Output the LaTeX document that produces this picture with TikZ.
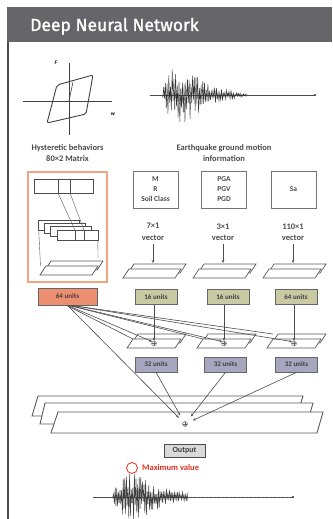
\documentclass[tikz,border=0pt]{standalone}
\usepackage{fontspec}
\setmainfont{Carlito}
\newfontfamily\titlefont[FakeBold=1.2]{Fira Sans}
\usetikzlibrary{arrows.meta}
\definecolor{titlegray}{HTML}{66666A}
\definecolor{orangeB}{HTML}{F2A47E}
\definecolor{orangeF}{HTML}{EC8F70}
\definecolor{oliveF}{HTML}{C9C9A3}
\definecolor{lavF}{HTML}{A6A6BE}
\definecolor{redM}{HTML}{E03020}
\tikzset{
  lbl/.style={font=\fontsize{8.5}{11.5}\selectfont\bfseries, text=black!70, align=center, inner sep=0},
  inbox/.style={draw=black!55, line width=0.8pt, minimum width=45pt, minimum height=37pt,
    font=\fontsize{7.5}{10}\selectfont\bfseries, align=center, text=black!70, inner sep=0},
  unitbox/.style={draw=black!60, line width=0.7pt, minimum width=42pt, minimum height=15pt,
    font=\fontsize{7}{7}\selectfont\bfseries, text=black!75, inner sep=0},
  fm/.style={draw=black!70, line width=0.7pt, fill=white},
  slabline/.style={draw=black!65, fill=white, line width=0.7pt},
  conn/.style={draw=black!70, line width=0.6pt},
  arr/.style={conn, -{Stealth[length=3pt,width=2.5pt]}},
  oplusn/.style={circle, draw=black!60, fill=black!8, inner sep=0, minimum size=5pt,
    path picture={\draw[black!60, line width=0.4pt] (path picture bounding box.north) -- (path picture bounding box.south)
      (path picture bounding box.west) -- (path picture bounding box.east);}},
}
\newcommand\myslab[4]{\path[slabline] (#1,#2) -- ++(#3,0) -- ++(6,-#4) -- ++(-#3,0) -- cycle;}
\newcommand\dslab[3]{\myslab{#1+5}{#2-5}{#3}{9}\myslab{#1}{#2}{#3}{9}}
\begin{document}
\begin{tikzpicture}[x=1pt,y=-1pt]
\useasboundingbox (0,0) rectangle (332,519);
\fill[white] (0,0) rectangle (332,519);
% title bar
\fill[titlegray] (7,7) rectangle (332,42);
\node[anchor=base west, inner sep=0, text=white, font=\titlefont\fontsize{17.5}{17.5}\selectfont] (title) at (30,31) {Deep Neural Network};
\draw[line width=1.5pt, black!70] (8,42) -- (8,519);

% hysteresis
\draw[line width=0.8pt, black!75] (23,101) -- (112,101);
\draw[line width=0.8pt, black!75] (69,63) -- (69,135);
\draw[line width=0.9pt, black!75, rounded corners=2pt] (57,85) -- (93,75) -- (86,114) -- (47,123) -- cycle;
\draw[line width=0.6pt, black!75] (69,101) -- (73,82);
\node[font=\fontsize{5.5}{5.5}\selectfont\bfseries\itshape, inner sep=0] (F) at (56,63) {F};
\node[font=\fontsize{5.5}{5.5}\selectfont\bfseries\itshape, inner sep=0] (W) at (113,114) {w};
\node[lbl] (hyst) at (67.5,153) {Hysteretic behaviors\\80×2 Matrix};

% top seismogram
\draw[line width=0.5pt, black!70] (150,95) -- (315,95);
\fill[black!80] (315,95) circle (1.2pt);
\pgfmathsetseed{42}
\draw[line width=0.45pt, black!80] (162,95) \foreach \i in {1,...,100} { -- ({162+\i*0.85},{95+30*(\i/18)*exp(1-\i/18)*(0.2+0.8*rnd)*(2*mod(\i,2)-1)}) };
\node[lbl] (eq) at (224,153) {Earthquake ground motion\\information};

% CNN box
\node[draw=orangeB, line width=1.1pt, minimum width=79pt, minimum height=110pt, inner sep=0] (cnn) at (67.5,227) {};
\draw[fm] (34,179) rectangle (93,193);
\draw[fm] (58,179) rectangle (70,193);
\foreach \k in {0,1,2,3} \draw[fm] ({38+6.3*\k},{220+3.4*\k}) rectangle ++(41,10);
\draw[fm] (75,230.2) rectangle (84,240.2);
\draw[black!65, line width=0.4pt] (58,193) -- (75,230.2) (70,193) -- (84,230.2);
\draw[black!65, line width=0.4pt] (38.5,226) -- (40.5,266) (97.9,240.2) -- (98,258);
\dslab{40}{275}{52}

% input boxes
\node[inbox] (i1) at (155.5,189.5) {M\\R\\Soil Class};
\node[inbox] (i2) at (224,189.5) {PGA\\PGV\\PGD};
\node[inbox] (i3) at (293.5,189.5) {Sa};
\node[lbl] (v1) at (153,232) {7×1\\vector};
\node[lbl] (v2) at (223,232) {3×1\\vector};
\node[lbl] (v3) at (293,232) {110×1\\vector};
\dslab{123}{278}{52}
\dslab{193}{278}{52}
\dslab{263}{278}{52}
\coordinate (s1) at (153,263);
\coordinate (s2) at (223,263);
\coordinate (s3) at (293,263);
\draw[arr] (v1.south) ++(0,3) -- (s1);
\draw[arr] (v2.south) ++(0,3) -- (s2);
\draw[arr] (v3.south) ++(0,3) -- (s3);

% unit boxes
\node[unitbox, fill=orangeF, minimum width=59pt, minimum height=17pt] (u0) at (67.5,296.5) {64 units};
\node[unitbox, fill=oliveF] (u1) at (156,297) {16 units};
\node[unitbox, fill=oliveF] (u2) at (228,297) {16 units};
\node[unitbox, fill=oliveF] (u3) at (296,297) {64 units};

% second slabs
\dslab{127}{348}{48}
\dslab{197}{348}{48}
\dslab{267}{348}{48}
\node[oplusn] (p1) at (154,343.5) {};
\node[oplusn] (p2) at (224,343.5) {};
\node[oplusn] (p3) at (294,343.5) {};
\coordinate (c1) at (133,339);
\coordinate (c2) at (203,339);
\coordinate (c3) at (273,334);
\draw[arr] (u1.south -| p1) -- (p1.north);
\draw[arr] (u2.south -| p2) -- (p2.north);
\draw[arr] (u3.south -| p3) -- (p3.north);
\draw[conn] (u0.south) ++(-1,0) -- (c1);
\draw[arr] (u0.south) ++(0,0) -- (p1.north west);
\draw[conn] (u0.south) ++(1,0) -- (c2);
\draw[arr] (u0.south) ++(2,0) -- (p2.north west);
\draw[conn] (u0.south) ++(3,0) -- (c3);
\draw[arr] (u0.south) ++(4,0) -- (p3.north west);

\node[unitbox, fill=lavF] (w1) at (156,364.5) {32 units};
\node[unitbox, fill=lavF] (w2) at (225.5,364.5) {32 units};
\node[unitbox, fill=lavF] (w3) at (296.5,364.5) {32 units};

% big slabs
\path[slabline, line width=0.9pt] (32,416) -- (297,416) -- (303,396) -- (38,396) -- cycle;
\path[slabline, line width=0.9pt] (40,424) -- (307,424) -- (313,403) -- (45,403) -- cycle;
\path[slabline, line width=0.9pt] (51,433) -- (317,433) -- (323,412) -- (58,412) -- cycle;
\node[oplusn] (P) at (185,424) {};
\draw[arr, shorten >=6pt] (u0.south) -- (P);
\draw[arr, shorten >=7pt] (w1.south) -- (P);
\draw[arr, shorten >=7pt] (w2.south) -- (P);
\draw[arr, shorten >=6pt] (w3.south) -- (P);

% output
\node[draw=black!70, line width=0.8pt, fill=black!15, minimum width=41pt, minimum height=13pt, inner sep=0,
  font=\fontsize{8}{8}\selectfont\bfseries, text=black!75] (out) at (184.5,450.5) {Output};

% maximum value
\node[circle, draw=redM, line width=0.8pt, minimum size=11pt, inner sep=0] (mx) at (132,468) {};
\node[anchor=west, inner sep=0, text=redM, font=\fontsize{8.5}{9}\selectfont\bfseries] (mxl) at (142,467.5) {Maximum value};

% bottom seismogram
\draw[line width=0.5pt, black!70] (93,497) -- (293,497);
\draw[line width=0.6pt, black!60, dash pattern=on 2pt off 2pt] (188,497) -- (290,497);
\fill[black!80] (293,497) circle (1.2pt);
\pgfmathsetseed{7}
\draw[line width=0.5pt, black!75] (112,497) \foreach \i in {1,...,95} { -- ({112+\i*0.8},{497+24*(\i/22)*exp(1-\i/22)*(0.2+0.8*rnd)*(2*mod(\i,2)-1)}) };
\end{tikzpicture}
\end{document}
